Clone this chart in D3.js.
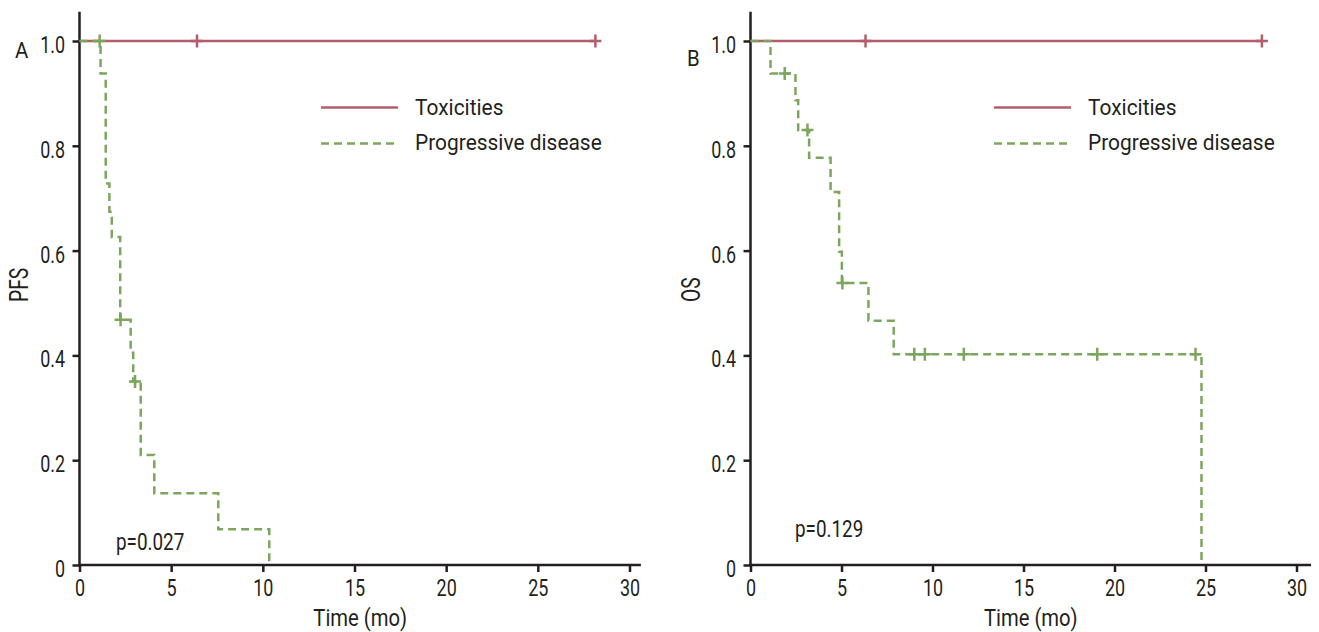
<!DOCTYPE html>
<html>
<head>
<meta charset="utf-8">
<script src="https://cdn.jsdelivr.net/npm/d3@7"></script>
<style>
  html, body { margin: 0; padding: 0; background: #fff; }
  svg { display: block; }
  text { font-family: Roboto, "Liberation Sans", sans-serif; fill: #231f20; }
</style>
</head>
<body>
<svg id="chart" width="1319" height="632"></svg>
<script>
// Axis ticks
const monthTicks = [0, 5, 10, 15, 20, 25, 30];
const survTicks = [0, 0.2, 0.4, 0.6, 0.8, 1.0];
const survTickLabels = ["0", "0.2", "0.4", "0.6", "0.8", "1.0"];

// Series names
const seriesNames = ["Toxicities", "Progressive disease"];

// Panel A: progression-free survival
const pfsToxTimes = [0, 28.14];
const pfsToxSurv = [1, 1];
const pfsToxCensorT = [6.41, 28.14];
const pfsToxCensorS = [1, 1];

const pfsPdTimes = [0, 1.15, 1.43, 1.63, 1.76, 2.22, 2.79, 2.93, 3.34, 4.08, 7.57, 10.35];
const pfsPdSurv  = [1, 0.938, 0.728, 0.674, 0.626, 0.468, 0.405, 0.350, 0.210, 0.137, 0.068, 0];
const pfsPdCensorT = [1.10, 2.24, 3.03];
const pfsPdCensorS = [1.0, 0.468, 0.350];

// Panel B: overall survival
const osToxTimes = [0, 28.1];
const osToxSurv = [1, 1];
const osToxCensorT = [6.32, 28.1];
const osToxCensorS = [1, 1];

const osPdTimes = [0, 1.10, 2.47, 2.62, 3.22, 4.40, 4.87, 5.02, 6.48, 7.87, 24.78];
const osPdSurv  = [1, 0.938, 0.887, 0.830, 0.777, 0.712, 0.598, 0.538, 0.466, 0.402, 0];
const osPdCensorT = [1.88, 3.13, 5.05, 9.0, 9.58, 11.72, 19.05, 24.45];
const osPdCensorS = [0.938, 0.830, 0.538, 0.402, 0.402, 0.402, 0.402, 0.402];

const pValues = ["p=0.027", "p=0.129"];
const panelLetters = ["A", "B"];
const yTitles = ["PFS", "OS"];
const xTitle = "Time (mo)";

const RED = "#b45d6c";
const GREEN = "#7ca65d";
const INK = "#231f20";

const svg = d3.select("#chart");

function zip(ts, ss) { return ts.map((t, i) => [t, ss[i]]); }

const panels = [
  {
    xRange: [79.5, 629.5], xEnd: 30.62,
    tox: zip(pfsToxTimes, pfsToxSurv), toxC: zip(pfsToxCensorT, pfsToxCensorS),
    pd: zip(pfsPdTimes, pfsPdSurv), pdC: zip(pfsPdCensorT, pfsPdCensorS),
    p: pValues[0], pPos: [116, 550],
    letter: panelLetters[0], letterPos: [15, 58],
    yTitle: yTitles[0], yTitlePos: [28, 302],
    legendX: 321
  },
  {
    xRange: [750.5, 1296.5], xEnd: 30.8,
    tox: zip(osToxTimes, osToxSurv), toxC: zip(osToxCensorT, osToxCensorS),
    pd: zip(osPdTimes, osPdSurv), pdC: zip(osPdCensorT, osPdCensorS),
    p: pValues[1], pPos: [795, 537],
    letter: panelLetters[1], letterPos: [687, 66],
    yTitle: yTitles[1], yTitlePos: [700, 302],
    legendX: 994
  }
];

const yRange = [565, 41];
const yTop = 1.056;

// horizontally condensed text helper
function label(g, str, x, y, size, sx, anchor, rotate) {
  const t = g.append("text")
    .attr("transform", `translate(${x},${y})` + (rotate ? ` rotate(${rotate})` : "") + ` scale(${sx},1)`)
    .attr("font-size", size)
    .attr("text-anchor", anchor || "start")
    .text(str);
  return t;
}

panels.forEach(P => {
  const x = d3.scaleLinear().domain([0, 30]).range(P.xRange);
  const y = d3.scaleLinear().domain([0, 1]).range(yRange);
  const g = svg.append("g");

  // axes
  const xAxis = d3.axisBottom(x).tickValues(monthTicks).tickFormat(d3.format("d"))
    .tickSize(7).tickSizeOuter(0);
  const gx = g.append("g").attr("transform", `translate(0,${y(0)})`).call(xAxis);
  gx.select(".domain").remove();
  gx.selectAll(".tick line").attr("stroke", INK).attr("stroke-width", 2.5);
  gx.selectAll(".tick text")
    .attr("font-size", 23).attr("dy", 0).attr("y", 31)
    .attr("transform", "scale(0.78,1)")
    .attr("fill", INK);

  const yAxis = d3.axisLeft(y).tickValues(survTicks)
    .tickFormat((d, i) => survTickLabels[i]).tickSize(7).tickSizeOuter(0);
  const gy = g.append("g").attr("transform", `translate(${x(0)},0)`).call(yAxis);
  gy.select(".domain").remove();
  gy.selectAll(".tick line").attr("stroke", INK).attr("stroke-width", 2.5);
  gy.selectAll(".tick text")
    .attr("font-size", 23).attr("dy", 0).attr("y", 11.5)
    .attr("x", -14.5 / 0.78)
    .attr("transform", "scale(0.78,1)")
    .attr("fill", INK);

  g.append("line")
    .attr("x1", x(0)).attr("x2", x(0)).attr("y1", y(0) + 1).attr("y2", y(yTop))
    .attr("stroke", INK).attr("stroke-width", 2.5);
  g.append("line")
    .attr("x1", x(0) - 1).attr("x2", x(P.xEnd)).attr("y1", y(0)).attr("y2", y(0))
    .attr("stroke", INK).attr("stroke-width", 2.5);

  // survival curves
  const step = d3.line().x(d => x(d[0])).y(d => y(d[1])).curve(d3.curveStepAfter);

  function censors(data, color) {
    g.append("g").selectAll("path").data(data).join("path")
      .attr("d", d => {
        const cx = x(d[0]), cy = y(d[1]);
        return `M${cx - 6},${cy}H${cx + 6}M${cx},${cy - 6.5}V${cy + 6.5}`;
      })
      .attr("stroke", color).attr("stroke-width", 2.5).attr("fill", "none");
  }

  g.append("path").datum(P.tox).attr("d", step)
    .attr("fill", "none").attr("stroke", RED).attr("stroke-width", 2.5);
  censors(P.toxC, RED);

  g.append("path").datum(P.pd).attr("d", step)
    .attr("fill", "none").attr("stroke", GREEN).attr("stroke-width", 2.5)
    .attr("stroke-dasharray", "8,5");
  censors(P.pdC, GREEN);

  // legend
  const lg = g.append("g");
  lg.append("line").attr("x1", P.legendX).attr("x2", P.legendX + 77)
    .attr("y1", 107.5).attr("y2", 107.5).attr("stroke", RED).attr("stroke-width", 2.5);
  lg.append("line").attr("x1", P.legendX).attr("x2", P.legendX + 77)
    .attr("y1", 143.5).attr("y2", 143.5).attr("stroke", GREEN).attr("stroke-width", 2.5)
    .attr("stroke-dasharray", "8,5");
  label(lg, seriesNames[0], P.legendX + 94, 114.5, 22.5, 0.93, "start");
  label(lg, seriesNames[1], P.legendX + 94, 149.5, 22.5, 0.93, "start");

  // titles and annotations
  label(g, xTitle, (x(0) + x(P.xEnd)) / 2, 626, 23, 0.88, "middle");
  label(g, P.yTitle, P.yTitlePos[0], P.yTitlePos[1], 25, 0.77, "start", -90);
  label(g, P.letter, P.letterPos[0], P.letterPos[1], 21.5, 0.95, "start");
  label(g, P.p, P.pPos[0], P.pPos[1], 23, 0.82, "start");
});
</script>
</body>
</html>
